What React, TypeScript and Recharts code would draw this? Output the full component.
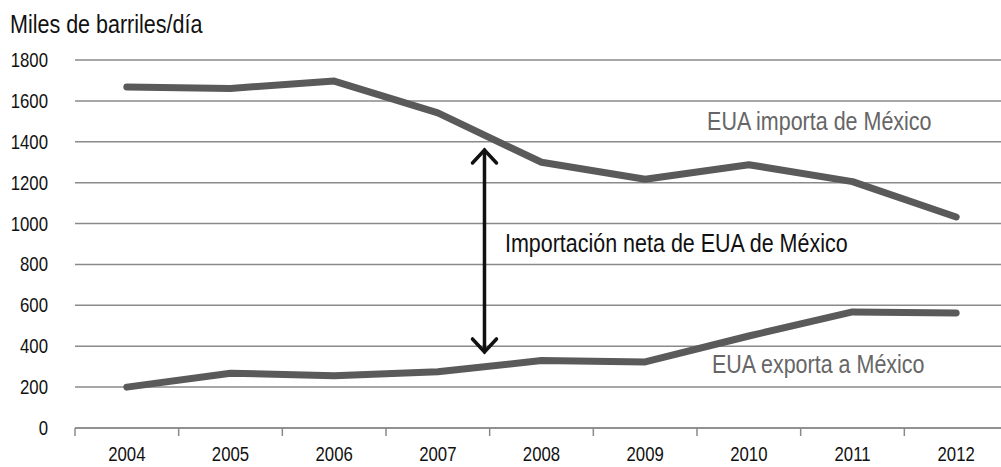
import {
  LineChart,
  Line,
  XAxis,
  YAxis,
  CartesianGrid,
  ReferenceLine,
  ReferenceDot,
} from "recharts";

const years = [2004, 2005, 2006, 2007, 2008, 2009, 2010, 2011, 2012];
const imports = [1668, 1661, 1697, 1541, 1300, 1217, 1288, 1205, 1032];
const exports = [200, 268, 255, 275, 330, 323, 450, 568, 563];
const yTicks = [0, 200, 400, 600, 800, 1000, 1200, 1400, 1600, 1800];

const data = years.map((year, i) => ({ year, imports: imports[i], exports: exports[i] }));
const boundaries = [...years.map((y) => y - 0.5), years[years.length - 1] + 0.5];
const domain: [number, number] = [boundaries[0], boundaries[boundaries.length - 1]];

const font = "'Liberation Sans', Arial, sans-serif";
const lineColor = "#5a5a5a";
const squeeze = 0.86;

// narrow text (the original uses Arial Narrow, which is not installed)
const NarrowText = ({ x, y, text, size, fill, anchor }: any) => (
  <text
    transform={`translate(${x},${y}) scale(${squeeze},1)`}
    textAnchor={anchor}
    fontSize={size}
    fontFamily={font}
    fill={fill}
  >
    {text}
  </text>
);

const YTick = (props: any) => {
  const { x, y, payload } = props;
  return <NarrowText x={x} y={y + 7} text={payload.value} size={19.5} fill="#111" anchor="end" />;
};

const XTick = (props: any) => {
  const { x, y, payload } = props;
  return <NarrowText x={x} y={y + 32} text={payload.value} size={19.5} fill="#111" anchor="middle" />;
};

const note = (text: string, fill: string) => (props: any) => (
  <NarrowText x={props.cx} y={props.cy + 9} text={text} size={25} fill={fill} anchor="middle" />
);

const Arrow = (props: any) => {
  const { x1, y1, x2, y2 } = props;
  const h = 13;
  const w = 12;
  return (
    <g stroke="#111" strokeWidth={3.5} fill="none" strokeLinecap="round">
      <line x1={x1} y1={y1} x2={x2} y2={y2} />
      <polyline points={`${x1 - w},${y1 + h} ${x1},${y1} ${x1 + w},${y1 + h}`} />
      <polyline points={`${x2 - w},${y2 - h} ${x2},${y2} ${x2 + w},${y2 - h}`} />
    </g>
  );
};

const App = () => {
  return (
    <div
      style={{
        position: "absolute",
        left: 0,
        top: 0,
        width: 1001,
        height: 467,
        overflow: "hidden",
        background: "#fff",
        fontFamily: font,
      }}
    >
      <div
        style={{
          position: "absolute",
          left: 10,
          top: 12,
          fontSize: 25,
          lineHeight: "25px",
          color: "#111",
          whiteSpace: "nowrap",
          transform: `scaleX(${squeeze})`,
          transformOrigin: "left top",
        }}
      >
        Miles de barriles/día
      </div>
      <LineChart
        width={1020}
        height={467}
        data={data}
        margin={{ top: 60, right: 12, bottom: 0, left: 0 }}
      >
        <CartesianGrid vertical={false} stroke="#8a8a8a" strokeWidth={1.5} />
        <XAxis
          xAxisId="axis"
          dataKey="year"
          type="number"
          domain={domain}
          ticks={boundaries}
          tickFormatter={() => ""}
          stroke="#8a8a8a"
          strokeWidth={1.5}
          tickSize={8}
          height={1}
        />
        <XAxis
          xAxisId="labels"
          dataKey="year"
          type="number"
          domain={domain}
          ticks={years}
          axisLine={false}
          tickLine={false}
          tickSize={0}
          tickMargin={0}
          height={38}
          tick={<XTick />}
        />
        <YAxis
          domain={[0, 1800]}
          ticks={yTicks}
          width={75}
          axisLine={false}
          tickLine={false}
          tickSize={0}
          tickMargin={27}
          tick={<YTick />}
        />
        <Line
          xAxisId="axis"
          dataKey="imports"
          stroke={lineColor}
          strokeWidth={7}
          strokeLinecap="round"
          strokeLinejoin="round"
          dot={false}
          isAnimationActive={false}
        />
        <Line
          xAxisId="axis"
          dataKey="exports"
          stroke={lineColor}
          strokeWidth={7}
          strokeLinecap="round"
          strokeLinejoin="round"
          dot={false}
          isAnimationActive={false}
        />
        <ReferenceLine
          xAxisId="axis"
          segment={[
            { x: 2007.45, y: 1360 },
            { x: 2007.45, y: 372 },
          ]}
          shape={Arrow}
        />
        <ReferenceDot xAxisId="axis" x={2010.68} y={1500} r={0} shape={note("EUA importa de México", "#666")} />
        <ReferenceDot xAxisId="axis" x={2009.3} y={905} r={0} shape={note("Importación neta de EUA de México", "#111")} />
        <ReferenceDot xAxisId="axis" x={2010.67} y={314} r={0} shape={note("EUA exporta a México", "#666")} />
      </LineChart>
    </div>
  );
};

export default App;
